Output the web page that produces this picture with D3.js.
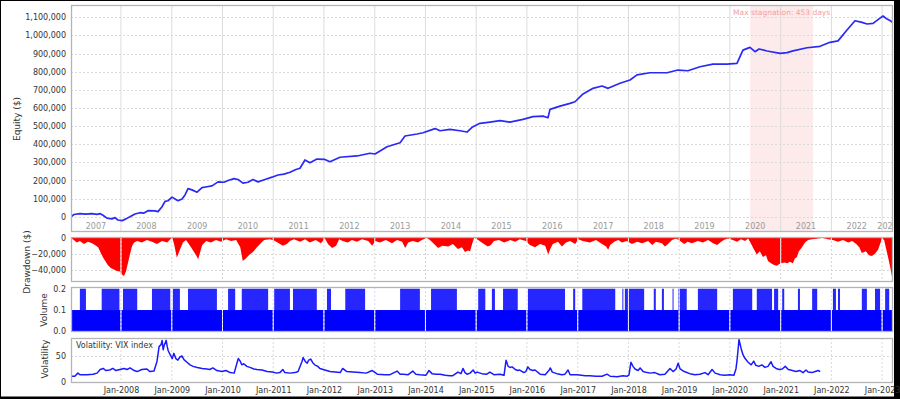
<!DOCTYPE html>
<html>
<head>
<meta charset="utf-8">
<script src="https://cdn.jsdelivr.net/npm/d3@7"></script>
<style>
  body { margin: 0; background: #fff; }
  svg { display: block; font-family: "DejaVu Sans", sans-serif; }
</style>
</head>
<body>
<svg id="chart" width="900" height="399"></svg>
<script>
// --- Data (dates are decimal years) ---
const equityDates = [2007.015, 2007.074, 2007.192, 2007.31, 2007.428, 2007.527, 2007.586, 2007.645, 2007.724, 2007.823,
  2007.882, 2007.941, 2008.02, 2008.099, 2008.177, 2008.276, 2008.374, 2008.453, 2008.532, 2008.67,
  2008.729, 2008.808, 2008.867, 2008.926, 2009.005, 2009.064, 2009.123, 2009.202, 2009.261, 2009.32,
  2009.399, 2009.498, 2009.596, 2009.695, 2009.793, 2009.912, 2010.03, 2010.109, 2010.227, 2010.306,
  2010.404, 2010.503, 2010.601, 2010.7, 2010.838, 2010.976, 2011.094, 2011.212, 2011.331, 2011.449,
  2011.528, 2011.626, 2011.725, 2011.863, 2012.02, 2012.119, 2012.316, 2012.651, 2012.907, 2013.006,
  2013.242, 2013.499, 2013.597, 2013.834, 2013.952, 2014.188, 2014.287, 2014.484, 2014.681, 2014.819,
  2014.918, 2015.075, 2015.272, 2015.469, 2015.666, 2015.923, 2016.12, 2016.317, 2016.415, 2016.455,
  2016.652, 2016.849, 2016.947, 2017.105, 2017.302, 2017.48, 2017.598, 2017.834, 2018.031, 2018.17,
  2018.425, 2018.761, 2018.977, 2019.174, 2019.411, 2019.667, 2019.943, 2020.14, 2020.258, 2020.396,
  2020.495, 2020.574, 2020.732, 2020.988, 2021.126, 2021.244, 2021.52, 2021.776, 2021.973, 2022.131,
  2022.308, 2022.466, 2022.604, 2022.703, 2022.821, 2022.959, 2023.018, 2023.097, 2023.156, 2023.215];
const equityValues = [0, 12000, 17000, 14000, 17000, 13000, 17000, 8000, -8000, -12000,
  -5000, -18000, -22000, -12000, 0, 15000, 22000, 20000, 33000, 32000,
  28000, 55000, 85000, 88000, 108000, 98000, 88000, 98000, 120000, 155000,
  148000, 135000, 160000, 165000, 170000, 192000, 190000, 200000, 210000, 205000,
  185000, 190000, 205000, 192000, 205000, 218000, 230000, 235000, 245000, 260000,
  267000, 313000, 298000, 318000, 316000, 303000, 328000, 335000, 350000, 346000,
  386000, 408000, 445000, 456000, 463000, 486000, 474000, 482000, 474000, 467000,
  493000, 515000, 522000, 530000, 522000, 537000, 552000, 555000, 546000, 592000,
  610000, 625000, 634000, 677000, 708000, 721000, 708000, 736000, 754000, 782000,
  794000, 794000, 809000, 805000, 827000, 842000, 842000, 846000, 919000, 934000,
  910000, 925000, 914000, 901000, 905000, 915000, 932000, 940000, 962000, 970000,
  1030000, 1081000, 1072000, 1063000, 1066000, 1095000, 1107000, 1090000, 1082000, 1070000];

const ddDates = [2007.015, 2007.07, 2007.13, 2007.19, 2007.27, 2007.35, 2007.43, 2007.51, 2007.55, 2007.61,
  2007.65, 2007.7, 2007.74, 2007.8, 2007.84, 2007.9, 2007.94, 2007.97, 2008.02, 2008.06,
  2008.1, 2008.14, 2008.18, 2008.22, 2008.26, 2008.32, 2008.41, 2008.51, 2008.61, 2008.71,
  2008.81, 2008.91, 2008.97, 2009.01, 2009.045, 2009.1, 2009.16, 2009.22, 2009.28, 2009.36,
  2009.42, 2009.48, 2009.52, 2009.56, 2009.6, 2009.68, 2009.77, 2009.87, 2009.97, 2010.07,
  2010.17, 2010.27, 2010.35, 2010.4, 2010.46, 2010.52, 2010.6, 2010.68, 2010.74, 2010.82,
  2010.94, 2011.035, 2011.11, 2011.19, 2011.27, 2011.33, 2011.41, 2011.53, 2011.63, 2011.72,
  2011.84, 2011.94, 2012.02, 2012.08, 2012.16, 2012.24, 2012.3, 2012.37, 2012.47, 2012.55,
  2012.65, 2012.75, 2012.87, 2012.95, 2013.01, 2013.1, 2013.22, 2013.34, 2013.44, 2013.54,
  2013.6, 2013.66, 2013.75, 2013.85, 2013.93, 2014.03, 2014.11, 2014.19, 2014.25, 2014.33,
  2014.45, 2014.54, 2014.64, 2014.72, 2014.78, 2014.84, 2014.88, 2014.92, 2014.96, 2015.04,
  2015.13, 2015.23, 2015.29, 2015.35, 2015.45, 2015.55, 2015.67, 2015.77, 2015.86, 2015.98,
  2016.06, 2016.16, 2016.26, 2016.36, 2016.42, 2016.46, 2016.51, 2016.61, 2016.69, 2016.77,
  2016.85, 2016.95, 2017.01, 2017.1, 2017.24, 2017.36, 2017.48, 2017.56, 2017.6, 2017.64,
  2017.72, 2017.8, 2017.87, 2017.97, 2018.07, 2018.17, 2018.27, 2018.39, 2018.47, 2018.54,
  2018.66, 2018.72, 2018.78, 2018.86, 2018.94, 2019.02, 2019.1, 2019.17, 2019.25, 2019.37,
  2019.47, 2019.57, 2019.67, 2019.75, 2019.81, 2019.88, 2019.96, 2020.06, 2020.14, 2020.22,
  2020.3, 2020.36, 2020.42, 2020.47, 2020.53, 2020.59, 2020.65, 2020.71, 2020.75, 2020.81,
  2020.87, 2020.93, 2020.97, 2021.01, 2021.07, 2021.13, 2021.18, 2021.24, 2021.28, 2021.32,
  2021.36, 2021.42, 2021.48, 2021.54, 2021.62, 2021.74, 2021.82, 2021.93, 2022.03, 2022.13,
  2022.23, 2022.33, 2022.41, 2022.49, 2022.55, 2022.6, 2022.68, 2022.74, 2022.8, 2022.86,
  2022.92, 2022.96, 2023.0, 2023.04, 2023.08, 2023.12, 2023.16, 2023.2, 2023.215];
const ddValues = [0, -3000, -6000, -4000, -8000, -5000, -7000, -10000, -12000, -20000,
  -25000, -30000, -34000, -38000, -39000, -41000, -42000, -42000, -46000, -48000,
  -42000, -31000, -20000, -10000, -6000, -4000, -6000, -3000, -5000, -8000,
  -4000, -6000, -2000, 0, -8000, -25000, -15000, -6000, -3000, -10000,
  -16000, -22000, -27000, -18000, -9000, -4000, -6000, -3000, -5000, -2000,
  -4000, -3000, -12000, -29000, -26000, -22000, -18000, -12000, -8000, -3000,
  -2000, -4000, -7000, -10000, -8000, -4000, -2000, -5000, -2000, -6000,
  -3000, -7000, -1000, -8000, -13000, -10000, -2000, -4000, -6000, -3000,
  -5000, -2000, -4000, -10000, -4000, -6000, -3000, -7000, -3000, -5000,
  -13000, -6000, -4000, -6000, -3000, 0, -4000, -9000, -13000, -10000,
  -11000, -8000, -14000, -12000, -18000, -16000, -17000, -8000, 0, -3000,
  -7000, -11000, -9000, -4000, -3000, -6000, -3000, -5000, -2000, -4000,
  -9000, -12000, -8000, -10000, -21000, -14000, -8000, -5000, -11000, -6000,
  -4000, -8000, -2000, -4000, -6000, -3000, -8000, -11000, -15000, -9000,
  -5000, -3000, -6000, -4000, -8000, -5000, -7000, -4000, -9000, -5000,
  -7000, -11000, -8000, -3000, -1000, -4000, -8000, -5000, -7000, -4000,
  -6000, -3000, -7000, -9000, -6000, -3000, -1000, -3000, -5000, -2000,
  -4000, -1000, -8000, -14000, -21000, -17000, -24000, -22000, -29000, -32000,
  -34000, -35000, -33000, -32000, -31000, -32000, -30000, -32000, -26000, -24000,
  -17000, -12000, -6000, -3000, -2000, -1000, 0, -2000, -3000, -5000,
  -3000, -6000, -4000, -8000, -12000, -19000, -17000, -22000, -23000, -20000,
  -15000, -8000, -1000, -3000, -14000, -25000, -37000, -50000, -50000];

const volumeStart = 2007.015, volumeEnd = 2023.215;
const volumeBase = 0.1, volumeHigh = 0.2;
const spikeStarts = [2007.19, 2007.62, 2008.04, 2008.61, 2009.02, 2009.32, 2010.11, 2010.38, 2011.02, 2011.39,
  2012.06, 2012.42, 2013.5, 2014.11, 2015.04, 2015.31, 2015.53, 2016.02, 2016.91, 2017.09,
  2017.88, 2017.93, 2018.5, 2018.66, 2018.87, 2018.98, 2019.37, 2020.06, 2020.53, 2020.87,
  2021.03, 2021.34, 2021.62, 2022.03, 2022.13, 2022.6, 2022.86, 2023.06];
const spikeEnds = [2007.31, 2007.97, 2008.32, 2008.97, 2009.16, 2009.89, 2010.25, 2010.9, 2011.33, 2011.86,
  2012.14, 2012.81, 2013.89, 2014.62, 2015.18, 2015.37, 2015.82, 2016.75, 2016.95, 2017.74,
  2017.9, 2018.31, 2018.54, 2018.7, 2018.89, 2019.15, 2019.75, 2020.44, 2020.83, 2020.95,
  2021.07, 2021.38, 2021.72, 2022.09, 2022.17, 2022.7, 2022.96, 2023.14];

const vixDates = [2007.015, 2007.09, 2007.15, 2007.19, 2007.33, 2007.45, 2007.53, 2007.59, 2007.65, 2007.7,
  2007.78, 2007.84, 2007.9, 2007.98, 2008.06, 2008.12, 2008.18, 2008.26, 2008.32, 2008.41,
  2008.51, 2008.57, 2008.65, 2008.71, 2008.75, 2008.79, 2008.81, 2008.83, 2008.85, 2008.89,
  2008.91, 2008.93, 2008.97, 2009.01, 2009.04, 2009.08, 2009.12, 2009.16, 2009.2, 2009.24,
  2009.3, 2009.36, 2009.42, 2009.5, 2009.6, 2009.69, 2009.75, 2009.81, 2009.89, 2009.99,
  2010.07, 2010.15, 2010.23, 2010.29, 2010.31, 2010.35, 2010.38, 2010.42, 2010.48, 2010.54,
  2010.62, 2010.68, 2010.78, 2010.88, 2010.98, 2011.07, 2011.13, 2011.19, 2011.23, 2011.33,
  2011.43, 2011.49, 2011.57, 2011.59, 2011.63, 2011.67, 2011.7, 2011.74, 2011.78, 2011.82,
  2011.88, 2011.92, 2012.02, 2012.12, 2012.22, 2012.32, 2012.37, 2012.45, 2012.57, 2012.71,
  2012.83, 2012.95, 2013.01, 2013.05, 2013.2, 2013.3, 2013.44, 2013.5, 2013.56, 2013.66,
  2013.75, 2013.81, 2013.89, 2014.01, 2014.07, 2014.13, 2014.21, 2014.29, 2014.39, 2014.48,
  2014.54, 2014.64, 2014.7, 2014.74, 2014.78, 2014.82, 2014.88, 2014.94, 2014.98, 2015.02,
  2015.11, 2015.21, 2015.27, 2015.35, 2015.47, 2015.55, 2015.59, 2015.63, 2015.67, 2015.71,
  2015.77, 2015.82, 2015.86, 2015.94, 2015.98, 2016.02, 2016.06, 2016.12, 2016.16, 2016.26,
  2016.36, 2016.44, 2016.46, 2016.5, 2016.59, 2016.69, 2016.75, 2016.81, 2016.85, 2016.99,
  2017.15, 2017.24, 2017.36, 2017.48, 2017.58, 2017.64, 2017.78, 2017.89, 2017.97, 2018.01,
  2018.05, 2018.09, 2018.13, 2018.19, 2018.23, 2018.29, 2018.37, 2018.43, 2018.52, 2018.62,
  2018.72, 2018.82, 2018.88, 2018.94, 2018.98, 2019.02, 2019.1, 2019.21, 2019.31, 2019.41,
  2019.51, 2019.57, 2019.65, 2019.71, 2019.81, 2019.9, 2020.0, 2020.08, 2020.12, 2020.14,
  2020.16, 2020.18, 2020.22, 2020.26, 2020.3, 2020.36, 2020.42, 2020.47, 2020.51, 2020.57,
  2020.63, 2020.69, 2020.75, 2020.81, 2020.85, 2020.91, 2020.97, 2021.03, 2021.09, 2021.15,
  2021.23, 2021.3, 2021.38, 2021.44, 2021.5, 2021.54, 2021.62, 2021.68, 2021.74, 2021.78];
const vixValues = [11, 11, 17, 14, 14, 15, 17, 24, 26, 22,
  23, 26, 22, 24, 26, 24, 27, 22, 20, 24,
  25, 20, 21, 40, 68, 72, 80, 62, 70, 80,
  68, 60, 52, 45, 55, 45, 42, 48, 50, 43,
  38, 33, 30, 28, 26, 25, 24, 27, 22, 20,
  22, 18, 17, 38, 45, 40, 33, 35, 30, 28,
  25, 24, 23, 20, 19, 17, 18, 24, 18, 17,
  18, 20, 40, 47, 40, 36, 42, 44, 37, 33,
  30, 26, 23, 20, 19, 18, 26, 20, 19, 18,
  17, 22, 18, 15, 14, 14, 21, 15, 15, 14,
  21, 15, 14, 13, 22, 16, 15, 15, 13, 12,
  12, 19, 16, 26, 18, 15, 17, 23, 17, 19,
  16, 15, 19, 14, 15, 13, 42, 30, 28, 29,
  24, 22, 23, 18, 20, 29, 24, 22, 23, 15,
  14, 23, 27, 19, 16, 14, 15, 23, 14, 14,
  12, 12, 11, 11, 15, 11, 10, 12, 11, 13,
  38, 30, 25, 22, 27, 20, 18, 17, 18, 14,
  15, 26, 20, 25, 36, 25, 20, 16, 14, 15,
  18, 14, 24, 17, 14, 13, 14, 13, 25, 40,
  60, 82, 65, 52, 45, 38, 33, 40, 32, 30,
  33, 28, 30, 39, 30, 26, 24, 25, 30, 24,
  22, 20, 22, 18, 23, 19, 18, 20, 22, 20];

const stagnationStart = 2020.4, stagnationDays = 453;
const equityTicks = d3.range(0, 1100001, 100000);
const ddTicks = [0, -20000, -40000];
const volumeTicks = [0, 0.1, 0.2];
const vixTicks = [0, 50];
const firstYear = 2007, lastYear = 2023;

// --- Layout ---
const left = 71, right = 893;
const panel = {
  eq: [5, 232],
  dd: [237, 282],
  vol: [287, 332],
  vix: [338, 383],
};
const tickFont = 8;

function toDate(v) {
  const y = Math.floor(v);
  const a = new Date(y, 0, 1), b = new Date(y + 1, 0, 1);
  return new Date(+a + (v - y) * (b - a));
}

const x = d3.scaleTime().domain([toDate(volumeStart), toDate(volumeEnd)]).range([left, right]);
const yEq = d3.scaleLinear().domain([-84400, 1167700]).range([panel.eq[1], panel.eq[0]]);
const yDD = d3.scaleLinear().domain([-55400, 900]).range([panel.dd[1], panel.dd[0]]);
const yVol = d3.scaleLinear().domain([-0.003, 0.208]).range([panel.vol[1], panel.vol[0]]);
const yVix = d3.scaleLinear().domain([-2, 84.6]).range([panel.vix[1], panel.vix[0]]);

const yearStarts = d3.range(firstYear + 1, lastYear + 1).map((y) => new Date(y, 0, 1));

const svg = d3.select("#chart");

// frame with heavier right/bottom edge
svg.append("rect").attr("width", 900).attr("height", 399).attr("fill", "#000");
svg.append("rect").attr("x", 1).attr("y", 1).attr("width", 893).attr("height", 395.5).attr("fill", "#fff");

const defs = svg.append("defs");
Object.entries(panel).forEach(([k, [t, b]]) => {
  defs.append("clipPath").attr("id", "clip-" + k)
    .append("rect").attr("x", left).attr("y", t).attr("width", right - left).attr("height", b - t);
});

function hGrid(g, ticks, y) {
  g.selectAll(null).data(ticks).enter().append("line")
    .attr("x1", left).attr("x2", right)
    .attr("y1", (d) => Math.round(y(d)) + 0.5).attr("y2", (d) => Math.round(y(d)) + 0.5)
    .attr("stroke", "#dadada").attr("stroke-dasharray", "2,2");
}

function vGrid(g, [t, b], color, dash) {
  g.selectAll(null).data(yearStarts).enter().append("line")
    .attr("x1", (d) => x(d)).attr("x2", (d) => x(d))
    .attr("y1", t).attr("y2", b)
    .attr("stroke", color).attr("stroke-dasharray", dash);
}

function leftAxis(y, ticks, fmt) {
  const g = svg.append("g").attr("transform", `translate(${left},0)`)
    .call(d3.axisLeft(y).tickValues(ticks).tickFormat(fmt).tickSize(0).tickPadding(5));
  g.select(".domain").remove();
  g.selectAll("text").attr("font-family", "DejaVu Sans").attr("font-size", tickFont).attr("fill", "#333");
}

function axisTitle(text, xPos, yPos) {
  svg.append("text")
    .attr("transform", `translate(${xPos},${yPos}) rotate(-90)`)
    .attr("text-anchor", "middle")
    .attr("font-size", 9)
    .attr("fill", "#333")
    .text(text);
}

function frame([t, b]) {
  svg.append("rect").attr("x", left + 0.5).attr("y", t + 0.5)
    .attr("width", right - left - 1).attr("height", b - t - 1)
    .attr("fill", "none").attr("stroke", "#b4b4b4").attr("stroke-width", 1.3);
}

// --- Equity panel ---
const gEq = svg.append("g").attr("clip-path", "url(#clip-eq)");
const stagStart = toDate(stagnationStart);
const stagEnd = d3.timeDay.offset(stagStart, stagnationDays);
gEq.append("rect")
  .attr("x", x(stagStart)).attr("y", panel.eq[0])
  .attr("width", x(stagEnd) - x(stagStart)).attr("height", panel.eq[1] - panel.eq[0])
  .attr("fill", "#fdeaea");
hGrid(gEq, equityTicks, yEq);
vGrid(gEq, panel.eq, "#dcdcdc", null);

gEq.selectAll(null).data(d3.range(firstYear, lastYear + 1)).enter().append("text")
  .attr("x", (yr) => {
    const a = Math.max(+new Date(yr, 0, 1), +x.domain()[0]);
    const b = Math.min(+new Date(yr + 1, 0, 1), +x.domain()[1]);
    return (x(new Date(a)) + x(new Date(b))) / 2;
  })
  .attr("y", 229)
  .attr("text-anchor", "middle")
  .attr("font-size", tickFont)
  .attr("fill", "#9a9a9a")
  .text((yr) => yr);

gEq.append("path")
  .datum(equityDates.map((d, i) => [toDate(d), equityValues[i]]))
  .attr("fill", "none")
  .attr("stroke", "#2a2af5")
  .attr("stroke-width", 1.7)
  .attr("stroke-linejoin", "round")
  .attr("d", d3.line().x((d) => x(d[0])).y((d) => yEq(d[1])));

gEq.append("text")
  .attr("x", (x(stagStart) + x(stagEnd)) / 2)
  .attr("y", 15)
  .attr("text-anchor", "middle")
  .attr("font-size", 7.5)
  .attr("fill", "#f4a0a0")
  .text(`Max stagnation: ${stagnationDays} days`);

frame(panel.eq);
leftAxis(yEq, equityTicks, d3.format(","));
axisTitle("Equity ($)", 19.5, 119);

// --- Drawdown panel ---
const gDD = svg.append("g").attr("clip-path", "url(#clip-dd)");
hGrid(gDD, ddTicks, yDD);
gDD.append("path")
  .datum(ddDates.map((d, i) => [toDate(d), ddValues[i]]))
  .attr("fill", "#ff0000")
  .attr("d", d3.area().x((d) => x(d[0])).y0(yDD(0)).y1((d) => yDD(d[1])));
vGrid(gDD, panel.dd, "#fff", null);
vGrid(gDD, panel.dd, "#d4d4d4", "2,2");
frame(panel.dd);
leftAxis(yDD, ddTicks, d3.format(","));
axisTitle("Drawdown ($)", 29.5, 262);

// --- Volume panel ---
const gVol = svg.append("g").attr("clip-path", "url(#clip-vol)");
gVol.append("rect")
  .attr("x", x(toDate(volumeStart))).attr("y", yVol(volumeBase))
  .attr("width", x(toDate(volumeEnd)) - x(toDate(volumeStart)))
  .attr("height", yVol(0) - yVol(volumeBase))
  .attr("fill", "#0000ff");
gVol.selectAll(null).data(spikeStarts).enter().append("rect")
  .attr("x", (d) => x(toDate(d)))
  .attr("y", yVol(volumeHigh))
  .attr("width", (d, i) => Math.max(1, x(toDate(spikeEnds[i])) - x(toDate(d))))
  .attr("height", yVol(volumeBase) - yVol(volumeHigh))
  .attr("fill", "#0000ff")
  .attr("fill-opacity", 0.85);
vGrid(gVol, panel.vol, "#fff", null);
vGrid(gVol, panel.vol, "#d8d8ff", "2,2");
frame(panel.vol);
leftAxis(yVol, volumeTicks, d3.format(".1f"));
axisTitle("Volume", 46.5, 310);

// --- Volatility panel ---
const gVix = svg.append("g").attr("clip-path", "url(#clip-vix)");
hGrid(gVix, vixTicks, yVix);
vGrid(gVix, panel.vix, "#dadada", "2,2");
gVix.append("path")
  .datum(vixDates.map((d, i) => [toDate(d), vixValues[i]]))
  .attr("fill", "none")
  .attr("stroke", "#1a1aff")
  .attr("stroke-width", 1.5)
  .attr("stroke-linejoin", "round")
  .attr("d", d3.line().x((d) => x(d[0])).y((d) => yVix(d[1])));
gVix.append("text")
  .attr("x", 76).attr("y", 347.5)
  .attr("font-size", tickFont)
  .attr("fill", "#333")
  .text("Volatility: VIX index");
frame(panel.vix);
leftAxis(yVix, vixTicks, d3.format("d"));
axisTitle("Volatility", 48, 359);

// --- Bottom time axis ---
const gx = svg.append("g").attr("transform", `translate(0,${panel.vix[1]})`)
  .call(d3.axisBottom(x).tickValues(yearStarts).tickFormat(d3.timeFormat("Jan-%Y")).tickSize(0).tickPadding(4.3));
gx.select(".domain").remove();
gx.selectAll("text").attr("font-family", "DejaVu Sans").attr("font-size", tickFont).attr("fill", "#333");
</script>
</body>
</html>
